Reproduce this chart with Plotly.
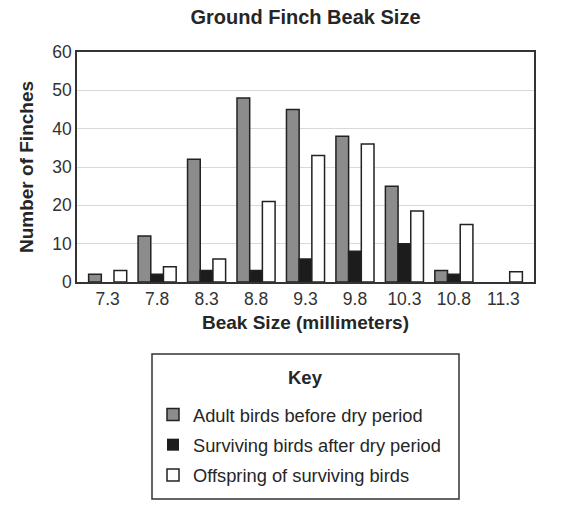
import plotly.graph_objects as go

beak_sizes = ["7.3", "7.8", "8.3", "8.8", "9.3", "9.8", "10.3", "10.8", "11.3"]
adult_before = [2, 12, 32, 48, 45, 38, 25, 3, 0]
surviving_after = [0, 2, 3, 3, 6, 8, 10, 2, 0]
offspring = [3, 4, 6, 21, 33, 36, 18.5, 15, 2.7]

series_names = ["Adult birds before dry period", "Surviving birds after dry period", "Offspring of surviving birds"]
series_colors = ["#8c8c8c", "#1c1c1c", "#ffffff"]
y_ticks = [0, 10, 20, 30, 40, 50, 60]

FONT = "Liberation Sans, Arial, sans-serif"
TXT = "#262626"

W, H = 571, 516
ml, mr, mt, mb = 77, 37, 52, 234
pw, ph = W - ml - mr, H - mt - mb


def px_x(x):
    return (x - ml) / pw


def px_y(y):
    return (H - mb - y) / ph


fig = go.Figure()
for name, vals, col in zip(series_names, [adult_before, surviving_after, offspring], series_colors):
    fig.add_trace(go.Bar(
        x=beak_sizes, y=vals, name=name,
        marker=dict(color=col, line=dict(color="#222222", width=[0 if v == 0 else 1.5 for v in vals])),
        legendgroup=name,
    ))

fig.update_layout(
    width=W, height=H,
    margin=dict(l=ml, r=mr, t=mt, b=mb),
    paper_bgcolor="white", plot_bgcolor="white",
    font=dict(family=FONT, color=TXT, size=18),
    barmode="group", bargap=0.23, bargroupgap=0,
    title=dict(text="<b>Ground Finch Beak Size</b>", font=dict(size=20, color=TXT),
               x=px_x(305.5), xref="paper", xanchor="center", y=1 - 17 / H, yanchor="middle"),
    xaxis=dict(
        type="category", range=[-0.62, 8.62],
        showline=True, linecolor="#333333", linewidth=1.5, mirror=True,
        ticks="", tickfont=dict(size=17.5, color="#333333"),
        title=dict(text="<b>Beak Size (millimeters)</b>", font=dict(size=19, color=TXT), standoff=8),
        showgrid=False,
    ),
    yaxis=dict(
        range=[0, 60], tickvals=y_ticks,
        showline=True, linecolor="#333333", linewidth=1.5, mirror=True,
        ticks="", tickfont=dict(size=17.5, color="#333333"),
        showgrid=True, gridcolor="#d9d9d9", gridwidth=1.2,
        title=dict(text="<b>Number of Finches</b>", font=dict(size=19, color=TXT), standoff=14),
        zeroline=False,
    ),
    legend=dict(
        x=px_x(153), xanchor="left",
        y=px_y(396), yanchor="top",
        bgcolor="rgba(0,0,0,0)", borderwidth=0,
        font=dict(size=18.3, color=TXT),
        tracegroupgap=3.5,
        traceorder="grouped",
    ),
    annotations=[dict(
        text="<b>Key</b>", xref="paper", yref="paper",
        x=px_x(305), y=px_y(377), xanchor="center", yanchor="middle",
        showarrow=False, font=dict(size=18.5, color=TXT),
    )],
    shapes=[dict(
        type="rect", xref="paper", yref="paper",
        x0=px_x(152), x1=px_x(459), y0=px_y(354), y1=px_y(499),
        line=dict(color="#333333", width=1.5), fillcolor="rgba(0,0,0,0)",
    )],
)

fig.write_html("out.html", config={"displayModeBar": False},
               post_script="document.body.style.margin='0px';")
